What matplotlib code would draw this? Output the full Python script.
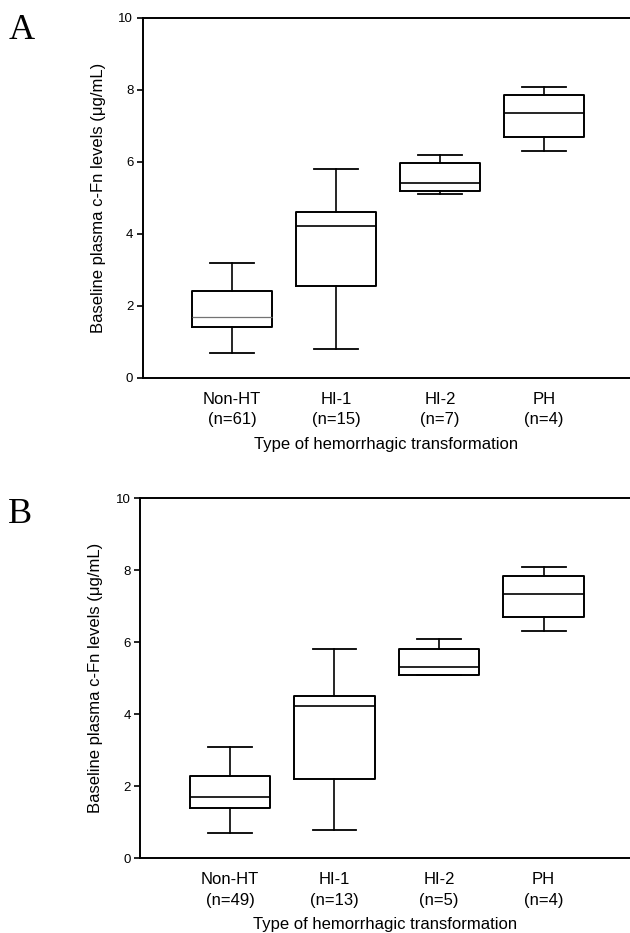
"""
Baseline plasma c-Fn levels by type of hemorrhagic transformation, panels A and B
"""

import matplotlib
matplotlib.use("Agg")
import matplotlib.pyplot as plt

plt.rcParams['font.family'] = ['Liberation Sans', 'DejaVu Sans']

groups = ['Non-HT', 'HI-1', 'HI-2', 'PH']

# panel A
n_a = [61, 15, 7, 4]
lo_a = [0.7, 0.8, 5.1, 6.3]
q1_a = [1.4, 2.55, 5.2, 6.7]
med_a = [1.7, 4.22, 5.4, 7.35]
q3_a = [2.42, 4.6, 5.97, 7.85]
hi_a = [3.2, 5.8, 6.2, 8.07]

# panel B
n_b = [49, 13, 5, 4]
lo_b = [0.7, 0.8, 5.1, 6.3]
q1_b = [1.4, 2.2, 5.1, 6.7]
med_b = [1.7, 4.22, 5.3, 7.33]
q3_b = [2.3, 4.5, 5.8, 7.85]
hi_b = [3.1, 5.8, 6.1, 8.08]


def panel(ax, n, lo, q1, med, q3, hi):
    stats = []
    for i in range(len(groups)):
        stats.append(dict(whislo=lo[i], q1=q1[i], med=med[i], q3=q3[i], whishi=hi[i], fliers=[]))
    pos = list(range(1, len(groups) + 1))
    bp = ax.bxp(stats, positions=pos, widths=0.77, capwidths=0.42, showfliers=False,
                boxprops=dict(color='black', linewidth=1.4),
                whiskerprops=dict(color='black', linewidth=1.2),
                capprops=dict(color='black', linewidth=1.3),
                medianprops=dict(color='black', linewidth=1.2))
    ax.set_xlim(0.144, 4.827)
    ax.set_ylim(0, 10)
    ax.set_yticks([0, 2, 4, 6, 8, 10])
    ax.set_xticks(pos)
    ax.set_xticklabels(['%s\n(n=%d)' % (g, k) for g, k in zip(groups, n)],
                       fontsize=12, linespacing=1.45)
    ax.tick_params(axis='x', length=0, pad=10)
    ax.tick_params(axis='y', length=4, width=1.2, labelsize=9.5, pad=3)
    ax.spines['right'].set_visible(False)
    for s in ['left', 'top', 'bottom']:
        ax.spines[s].set_linewidth(1.4)
    ax.set_xlabel('Type of hemorrhagic transformation', fontsize=12, labelpad=7)
    ax.set_ylabel('Baseline plasma c-Fn levels (\u03bcg/mL)', fontsize=12, labelpad=9)
    return bp


fig = plt.figure(figsize=(6.3, 9.33), dpi=100)
ax_a = fig.add_axes([0.227, 0.595, 0.773, 0.386])
ax_b = fig.add_axes([0.223, 0.080, 0.777, 0.386])

bp_a = panel(ax_a, n_a, lo_a, q1_a, med_a, q3_a, hi_a)
bp_b = panel(ax_b, n_b, lo_b, q1_b, med_b, q3_b, hi_b)

# thin grey median in the first box of panel A
bp_a['medians'][0].set_color('0.45')
bp_a['medians'][0].set_linewidth(0.9)

fig.text(0.013, 0.967, 'A', fontsize=26, family='Liberation Serif', va='center')
fig.text(0.013, 0.449, 'B', fontsize=26, family='Liberation Serif', va='center')

fig.savefig('out.png', dpi=100)
